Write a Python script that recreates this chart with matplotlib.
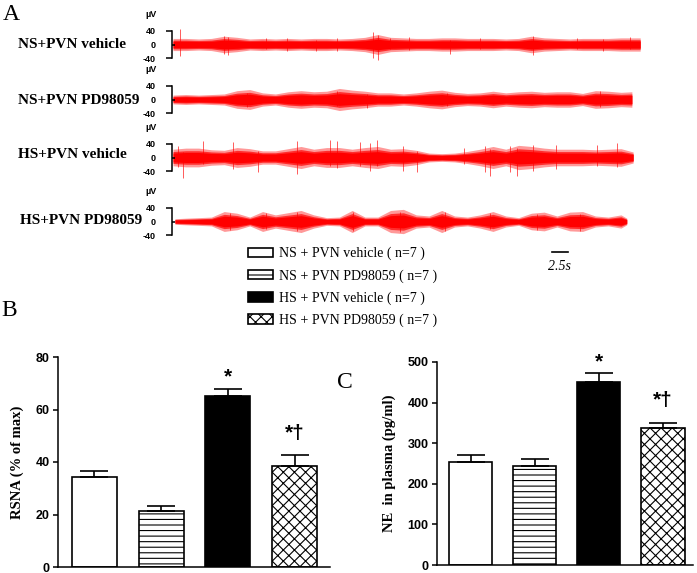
import matplotlib
matplotlib.use("Agg")
import matplotlib.pyplot as plt
import numpy as np
from matplotlib.ticker import FixedLocator, FixedFormatter

plt.rcParams['hatch.linewidth'] = 0.8

W, H, DPI = 697, 573, 100

# ---------------- data ----------------
trace_labels = ["NS+PVN vehicle", "NS+PVN PD98059", "HS+PVN vehicle", "HS+PVN PD98059"]

# envelope of each nerve recording: sample times (s) and half-amplitude (uV)
t1_time = [0, 2, 4, 6, 8, 10, 12, 14, 16, 18, 20, 22, 24, 26, 28, 30, 32, 34, 36,
           38, 40, 42, 44, 46, 48, 50, 52, 54, 56, 58, 60, 62, 64, 66, 68, 70, 72, 73.0]
t1_env = [11, 11, 10, 11, 15, 13, 10, 11, 10, 11, 10, 11, 11, 10, 11, 13, 18, 13, 12,
          11, 11, 12, 12, 11, 11, 11, 10, 11, 15, 12, 11, 10, 11, 11, 11, 12, 12, 12]

t2_time = [0, 2, 4, 6, 8, 10, 12, 14, 16, 18, 20, 22, 24, 26, 28, 30, 32, 34, 36,
           38, 40, 42, 44, 46, 48, 50, 52, 54, 56, 58, 60, 62, 64, 66, 68, 70, 71.7]
t2_env = [8, 9, 8, 9, 10, 16, 18, 12, 10, 14, 16, 14, 15, 20, 17, 15, 12, 12, 10,
          12, 15, 17, 13, 11, 12, 15, 12, 14, 15, 13, 14, 14, 11, 16, 15, 13, 14]

t3_time = [0, 2, 4, 6, 8, 10, 12, 14, 16, 18, 20, 22, 24, 26, 28, 30, 32, 34, 36,
           38, 40, 42, 44, 46, 48, 50, 52, 54, 56, 58, 60, 62, 64, 66, 68, 70, 71.9]
t3_env = [15, 17, 17, 14, 13, 18, 16, 12, 12, 16, 20, 15, 18, 18, 15, 18, 20, 15, 16,
          13, 8, 7, 8, 11, 15, 20, 15, 22, 20, 17, 15, 15, 15, 14, 15, 16, 10]

t4_time = [0.3, 2, 4, 6, 8, 10, 12, 14, 16, 18, 20, 22, 24, 26, 28, 30, 32, 34, 36,
           38, 40, 42, 44, 46, 48, 50, 52, 54, 56, 58, 60, 62, 64, 66, 68, 70, 70.9]
t4_env = [5, 6, 7, 8, 18, 15, 8, 18, 12, 16, 20, 12, 7, 8, 20, 8, 8, 20, 22,
          12, 10, 20, 10, 8, 12, 18, 10, 7, 15, 17, 10, 17, 18, 10, 8, 12, 6]

# isolated spikes: time (s), positive peak (uV), negative peak (uV)
s1_time = [1.1, 7.9, 8.6, 14.6, 17.8, 22.4, 25.6, 31.3, 32.1, 33.9, 36.8, 43.3, 48.0, 56.3, 63.1, 67.2, 71.4]
s1_up   = [44, 25, 22, 18, 18, 12, 18, 35, 28, 20, 22, 12, 18, 25, 18, 16, 22]
s1_down = [33, 28, 30, 12, 20, 20, 20, 40, 45, 14, 15, 27, 12, 30, 12, 18, 12]

s2_time = [11.5, 25.6, 30.3, 42.8, 66.7]
s2_up   = [20, 24, 16, 20, 25]
s2_down = [22, 20, 25, 20, 22]

s3_time = [0.8, 1.6, 4.7, 9.4, 13.3, 19.3, 24.5, 25.6, 29.2, 30.8, 31.8, 36.0, 38.1,
           45.4, 48.8, 49.5, 52.7, 53.7, 56.3, 59.9, 66.2, 69.3]
s3_up   = [32, 15, 47, 44, 20, 47, 50, 47, 44, 42, 52, 32, 20, 27, 32, 25, 32, 28, 37, 37, 37, 42]
s3_down = [28, 58, 20, 33, 43, 48, 25, 30, 25, 38, 25, 38, 43, 18, 43, 53, 43, 53, 38, 33, 25, 28]

s4_time = [8.9, 14.6, 19.3, 28.2, 35.5, 42.5, 49.5, 56.8, 63.6]
s4_up   = [25, 25, 28, 27, 28, 27, 25, 22, 22]
s4_down = [25, 22, 28, 27, 30, 28, 22, 25, 28]

legend_labels = ["NS + PVN vehicle ( n=7 )", "NS + PVN PD98059 ( n=7 )",
                 "HS + PVN vehicle ( n=7 )", "HS + PVN PD98059 ( n=7 )"]

rsna_mean = [34.3, 21.3, 65.1, 38.5]
rsna_sem = [2.3, 1.9, 2.7, 4.2]
rsna_marks = ["", "", "*", "*\u2020"]
rsna_mark_y = [0, 0, 72.4, 51]

ne_mean = [254, 245, 451, 337]
ne_sem = [17, 16, 22, 13]
ne_marks = ["", "", "*", "*\u2020"]
ne_mark_y = [0, 0, 500, 406]

scale_bar_s = 2.5

# ---------------- layout helpers ----------------
SERIF = "Liberation Serif"
SANS = "Liberation Sans"


def ax_px(fig, left, top, right, bottom):
    return fig.add_axes([left / W, 1 - bottom / H, (right - left) / W, (bottom - top) / H])


def ftext(fig, x, y, s, **kw):
    fig.text(x / W, 1 - y / H, s, **kw)


fig = plt.figure(figsize=(W / DPI, H / DPI), dpi=DPI)

# ---------------- panel A: traces ----------------
traces = [(t1_time, t1_env, s1_time, s1_up, s1_down),
          (t2_time, t2_env, s2_time, s2_up, s2_down),
          (t3_time, t3_env, s3_time, s3_up, s3_down),
          (t4_time, t4_env, s4_time, s4_up, s4_down)]
centers = [44.5, 99.5, 157.5, 221.5]
label_x = [18, 18, 18, 20]
label_y = [45, 100, 154, 221]
px_per_s = 6.4
tr_left, tr_right = 173, 645
half_px = 25
uv_per_px = 1 / 0.345

trace_axes = []
for i, (tt, env, st, su, sd) in enumerate(traces):
    c = centers[i]
    ax = ax_px(fig, tr_left, c - half_px, tr_right, c + half_px)
    ax.set_xlim(0, (tr_right - tr_left) / px_per_s)
    ax.set_ylim(-half_px * uv_per_px, half_px * uv_per_px)
    tt = np.asarray(tt, float)
    env = np.asarray(env, float)
    ax.fill_between(tt, -env * 1.6, env * 1.6, color="red", alpha=0.4, lw=0)
    ax.fill_between(tt, -env * 1.15, env * 1.15, color="red", alpha=0.7, lw=0)
    ax.fill_between(tt, -env * 0.85, env * 0.85, color="red", lw=0)
    ax.vlines(st, -np.asarray(sd), np.asarray(su), color="red", lw=0.6, alpha=0.75)
    for s in ["top", "right", "bottom"]:
        ax.spines[s].set_visible(False)
    ax.spines["left"].set_bounds(-40, 40)
    ax.spines["left"].set_position(("outward", 0.8))
    ax.spines["left"].set_linewidth(1.1)
    ax.set_xticks([])
    ax.set_yticks([-40, 40])
    ax.set_yticklabels(["-40", "40"])
    ax.yaxis.set_minor_locator(FixedLocator([0]))
    ax.yaxis.set_minor_formatter(FixedFormatter(["0"]))
    ax.tick_params(axis="y", which="major", direction="out", length=4.3, width=1.1, pad=7.6,
                   labelsize=6.5)
    ax.tick_params(axis="y", which="minor", direction="in", length=2.2, width=1.1, pad=11.9,
                   labelsize=6.5)
    for lab in ax.get_yticklabels(which="both"):
        lab.set_fontweight("bold")
        lab.set_fontfamily(SANS)
    ax.patch.set_alpha(0)
    ftext(fig, 150.5, c - 30, "\u00b5V", fontsize=6.5, fontweight="bold", family=SANS,
          ha="center", va="center")
    ftext(fig, label_x[i], label_y[i], trace_labels[i], fontsize=11, fontweight="bold",
          family=SERIF, ha="left", va="center")
    trace_axes.append(ax)

# scale bar on last trace axes
ax4 = trace_axes[3]
sb_t0 = (552 - tr_left) / px_per_s
sb_y = -(252 - centers[3]) * uv_per_px
ax4.plot([sb_t0, sb_t0 + scale_bar_s], [sb_y, sb_y], color="black", lw=1.2, clip_on=False)
ftext(fig, 559, 267, f"{scale_bar_s}s", fontsize=10, fontstyle="italic", family=SERIF,
      ha="center", va="center")

# ---------------- panel letters ----------------
ftext(fig, 11.5, 15, "A", fontsize=17, family=SERIF, ha="center", va="center")
ftext(fig, 9.5, 310, "B", fontsize=17, family=SERIF, ha="center", va="center")
ftext(fig, 345, 383, "C", fontsize=17, family=SERIF, ha="center", va="center")

# ---------------- bar panels ----------------
colors = ["white", "white", "black", "white"]
hatches = ["", "---", "", "xxx"]
xpos = np.arange(4)


def bar_panel(ax, means, sems, marks, mark_y, ylim, yticks, ylabel, xlim, labelpad):
    bars = ax.bar(xpos, means, width=0.675, color=colors, edgecolor="black", linewidth=1.2,
                  hatch=hatches, yerr=[np.zeros(4), sems], capsize=10.4,
                  error_kw=dict(elinewidth=1.2, capthick=1.2, ecolor="black"), zorder=2)
    ax.set_ylim(*ylim)
    ax.set_xlim(*xlim)
    ax.set_yticks(yticks)
    ax.set_xticks([])
    for s in ["top", "right"]:
        ax.spines[s].set_visible(False)
    ax.spines["left"].set_linewidth(1.1)
    ax.spines["bottom"].set_linewidth(1.1)
    ax.tick_params(axis="y", direction="out", length=3.6, width=1.1, pad=2.5, labelsize=9)
    for lab in ax.get_yticklabels():
        lab.set_fontweight("bold")
        lab.set_fontfamily(SANS)
    ax.set_ylabel(ylabel, fontsize=10.5, fontweight="bold", family=SERIF, labelpad=labelpad)
    for x, m, y in zip(xpos, marks, mark_y):
        if m:
            ax.text(x, y, m, ha="center", va="center", fontsize=15, fontweight="bold",
                    family=SANS)
    return bars


axB = ax_px(fig, 58, 357, 330, 567)
barsB = bar_panel(axB, rsna_mean, rsna_sem, rsna_marks, rsna_mark_y, (0, 80),
                  [0, 20, 40, 60, 80], "RSNA (% of max)", (-0.547, 3.532), 8)

axC = ax_px(fig, 437, 362, 693, 565)
bar_panel(axC, ne_mean, ne_sem, ne_marks, ne_mark_y, (0, 500),
          [0, 100, 200, 300, 400, 500], "NE  in plasma (pg/ml)", (-0.523, 3.47), 8)

# ---------------- legend ----------------
fig.legend(barsB.patches, legend_labels, loc="upper left",
           bbox_to_anchor=(248 / W, 1 - 247 / H), frameon=False, borderpad=0,
           borderaxespad=0, handlelength=1.8, handleheight=0.7, handletextpad=0.4,
           labelspacing=0.62, prop=dict(family=SERIF, size=10))

fig.savefig("out.png", dpi=DPI)
